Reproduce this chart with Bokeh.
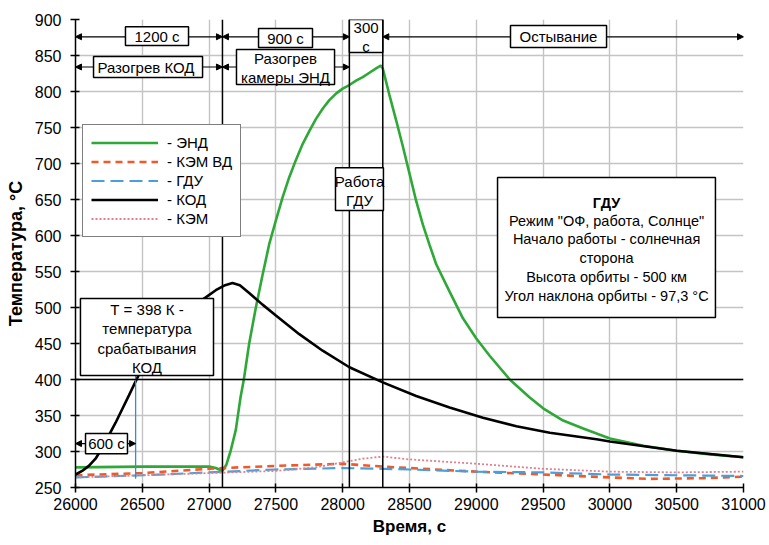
from bokeh.plotting import figure
from bokeh.models import (Span, Label, BoxAnnotation, Arrow, NormalHead,
                          FixedTicker, Range1d)
from bokeh.embed import file_html
from bokeh.resources import INLINE

# ---- data ----
t_end = [26000, 26500, 27000, 27050, 27100, 27130, 27160, 27200, 27235, 27260,
         27300, 27350, 27400, 27450, 27500, 27550, 27600, 27650, 27700, 27750,
         27800, 27850, 27900, 27950, 28000, 28050, 28100, 28150, 28200, 28250,
         28285, 28300, 28350, 28400, 28450, 28500, 28550, 28600, 28650, 28700,
         28800, 28900, 29000, 29100, 29250, 29400, 29500, 29650, 29800, 30000,
         30250, 30500, 30750, 31000]
T_end = [278, 279, 279, 277, 273, 282, 300, 330, 375, 400,
         450, 500, 545, 588, 621, 653, 681, 705, 727, 745,
         762, 776, 788, 797, 804, 809, 815, 820, 826, 832,
         836, 832, 795, 760, 724, 686, 648, 615, 587, 560,
         522, 485, 457, 433, 400, 375, 360, 343, 332, 318,
         308, 301, 296, 292]

t_kem_vd = [26000, 26500, 27000, 27100, 27500, 28000, 28300, 28500, 29000,
            29500, 30000, 30300, 30700, 31000]
T_kem_vd = [267, 270, 276, 277, 280, 283, 279, 277, 272,
            268, 264, 262, 263, 265]

t_gdu = [26000, 26500, 27000, 27500, 28000, 28300, 28500, 29000, 29500,
         30000, 30500, 31000]
T_gdu = [264, 267, 271, 275, 277, 276, 275, 272, 271, 268, 267, 266]

t_kod = [26000, 26050, 26100, 26150, 26200, 26300, 26400, 26470, 26600, 26700,
         26800, 26900, 26975, 27050, 27120, 27175, 27230, 27300, 27400, 27500,
         27675, 27850, 28050, 28300, 28550, 28800, 29050, 29300, 29550, 29900,
         30000, 30500, 31000]
T_kod = [268, 273, 280, 290, 305, 340, 378, 405, 445, 470,
         490, 505, 514, 524, 531, 534, 531, 520, 504, 489,
         463, 440, 417, 396, 377, 361, 347, 335, 326, 317,
         314, 301, 292]

t_kem = [26000, 26500, 27000, 27500, 27800, 28000, 28150, 28300, 28500, 29000,
         29500, 30000, 30500, 31000]
T_kem = [264, 267, 270, 273, 278, 285, 290, 293, 289, 283,
         276, 272, 271, 272]

x_ticks = [26000, 26500, 27000, 27500, 28000, 28500, 29000, 29500, 30000, 30500, 31000]
y_ticks = [250, 300, 350, 400, 450, 500, 550, 600, 650, 700, 750, 800, 850, 900]

FONT = "Liberation Sans"

p = figure(width=768, height=544, x_range=Range1d(26000, 31000),
           y_range=Range1d(250, 900), output_backend="svg", toolbar_location=None,
           min_border_left=75, min_border_right=25, min_border_top=19,
           min_border_bottom=57)
p.outline_line_color = None
p.background_fill_color = "white"

p.xaxis.ticker = FixedTicker(ticks=x_ticks)
p.yaxis.ticker = FixedTicker(ticks=y_ticks)
for ax in (p.xaxis[0], p.yaxis[0]):
    ax.axis_line_color = "black"
    ax.axis_line_width = 1.5
    ax.major_tick_line_color = "black"
    ax.major_tick_line_width = 1.5
    ax.major_tick_in = 4
    ax.major_tick_out = 5
    ax.minor_tick_line_color = None
    ax.major_label_text_font = FONT
    ax.major_label_text_font_size = "16px"
    ax.major_label_text_color = "black"
    ax.axis_label_text_font = FONT
    ax.axis_label_text_font_style = "bold"
    ax.axis_label_text_color = "black"
p.xaxis.axis_label = "Время, с"
p.yaxis.axis_label = "Температура, °С"
p.xaxis.axis_label_text_font_size = "17px"
p.yaxis.axis_label_text_font_size = "18px"
p.xaxis.major_label_standoff = 5
p.yaxis.major_label_standoff = 9
p.xaxis.axis_label_standoff = 4
p.yaxis.axis_label_standoff = 6

p.xgrid.grid_line_color = "#c4c4c4"
p.ygrid.grid_line_color = "#c4c4c4"
p.xgrid.grid_line_width = 1.4
p.ygrid.grid_line_width = 1.4

# ---- series ----
p.line(t_end, T_end, line_color="#2ea836", line_width=2.6, legend_label="- ЭНД")
p.line(t_kem_vd, T_kem_vd, line_color="#f05a28", line_width=2.6,
       line_dash="7 5", legend_label="- КЭМ ВД")
p.line(t_gdu, T_gdu, line_color="#4a9fd8", line_width=2.2,
       line_dash="13 6", legend_label="- ГДУ")
p.line(t_kod, T_kod, line_color="black", line_width=2.6, legend_label="- КОД")
p.line(t_kem, T_kem, line_color="#e0808c", line_width=1.8,
       line_dash="2 2", legend_label="- КЭМ")

# ---- reference lines ----
p.add_layout(Span(location=400, dimension="width", line_color="black", line_width=1.5))
for loc in (27100, 28050, 28300):
    p.add_layout(Span(location=loc, dimension="height", line_color="black", line_width=1.5))
p.segment(x0=[26450], y0=[262], x1=[26450], y1=[405], line_color="#3a8cc8", line_width=1.3)

# ---- arrows ----
def arrow(x0, x1, y):
    p.add_layout(Arrow(x_start=x0, y_start=y, x_end=x1, y_end=y, line_width=1.2,
                       start=NormalHead(size=6, fill_color="black", line_color="black"),
                       end=NormalHead(size=6, fill_color="black", line_color="black")))

arrow(26000, 27100, 876)
arrow(27100, 28050, 876)
arrow(28300, 31000, 876)
arrow(26000, 27100, 834)
arrow(27100, 28050, 834)
arrow(26000, 26450, 311)

# ---- boxes ----
def box(l, r, b, t):
    p.add_layout(BoxAnnotation(left=l, right=r, bottom=b, top=t, fill_color="white",
                               fill_alpha=1, line_color="black", line_width=1.5,
                               line_alpha=1))

def label(x, y, text, size="15px", style="normal", lh=1.1):
    p.add_layout(Label(x=x, y=y, text=text, text_font=FONT, text_font_size=size,
                       text_font_style=style, text_align="center",
                       text_baseline="middle", text_color="black",
                       text_line_height=lh))

box(26374, 26846, 864, 890); label(26610, 877, "1200 с")
box(27370, 27774, 861, 887.5); label(27572, 874, "900 с")
box(28050, 28300, 854, 900); label(28175, 876, "300\nс")
box(29256, 29975, 861, 891.7); label(29615, 876, "Остывание")
box(26135, 26951, 819.4, 848.6); label(26543, 834, "Разогрев  КОД")
box(27205, 27939, 809.7, 858.3); label(27572, 833, "Разогрев\nкамеры ЭНД")
box(27946, 28305, 634.7, 694); label(28126, 662, "Работа\nГДУ")
box(26037, 27033, 405.6, 512.5); label(26535, 457, "Т = 398 К -\nтемпература\nсрабатывания\nКОД", lh=1.15)
box(26075, 26389, 297, 325); label(26232, 311, "600 с")

box(29159, 30790, 486, 680.6)
label(29975, 645.8, "ГДУ", size="14.5px", style="bold")
for yy, txt in ((620.8, 'Режим "ОФ, работа, Солнце"'),
                (595.8, "Начало работы - солнечная"),
                (569.4, "сторона"),
                (541.7, "Высота орбиты - 500 км"),
                (515.3, "Угол наклона орбиты - 97,3 °С")):
    label(29975, yy, txt, size="14.5px")

# ---- legend ----
lg = p.legend[0]
lg.location = (7, 250)
lg.border_line_color = "black"
lg.border_line_width = 1.5
lg.background_fill_alpha = 1
lg.label_text_font = FONT
lg.label_text_font_size = "15px"
lg.label_text_color = "black"
lg.glyph_width = 67
lg.glyph_height = 19
lg.label_height = 19
lg.spacing = 0
lg.padding = 8
lg.label_standoff = 9
lg.margin = 0

open("out.html", "w").write(file_html(p, INLINE))
